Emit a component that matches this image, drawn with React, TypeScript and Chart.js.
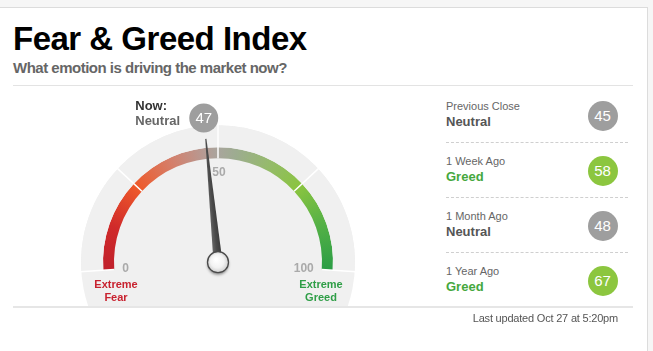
import React, { useEffect, useRef } from 'react';
import { Chart, registerables } from 'chart.js';

Chart.register(...registerables);

// ---- data ----
const zoneLabels = ['Extreme Fear', 'Fear', 'Greed', 'Extreme Greed'];
const zoneSizes = [25, 25, 25, 25];
const tickLabels = ['0', '50', '100'];
const currentValue = 47;
const currentRating = 'Neutral';
const historyLabels = ['Previous Close', '1 Week Ago', '1 Month Ago', '1 Year Ago'];
const historyRatings = ['Neutral', 'Greed', 'Neutral', 'Greed'];
const historyValues = [45, 58, 48, 67];
const titleText = 'Fear & Greed Index';
const subtitleText = 'What emotion is driving the market now?';
const updatedText = 'Last updated Oct 27 at 5:20pm';

const FONT = '"Liberation Sans", Arial, Helvetica, sans-serif';
const ratingText: Record<string, string> = { Neutral: '#555555', Greed: '#45a83e', Fear: '#e0542b' };
const ratingBadge: Record<string, string> = { Neutral: '#9e9e9e', Greed: '#8cc63f', Fear: '#f06c3b' };

const ROTATION = -94;
const CIRC = 188;
const OUTER = 137;
const INNER = 104;

const gradStops: [number, string][] = [
  [0, '#c0202b'],
  [0.12, '#d02a2a'],
  [0.25, '#ee5a2b'],
  [0.37, '#d4806c'],
  [0.46, '#b69a93'],
  [0.5, '#a9a59d'],
  [0.55, '#9dac90'],
  [0.65, '#95bb6a'],
  [0.75, '#8ac440'],
  [0.87, '#55b146'],
  [1, '#2a9d45'],
];

const gaugePlugin = {
  id: 'gauge',
  beforeDatasetsDraw(chart: any) {
    const ctx = chart.ctx;
    const band = chart.getDatasetMeta(0).data[0];
    ctx.save();
    ctx.beginPath();
    ctx.arc(band.x, band.y, band.outerRadius, 0, Math.PI * 2);
    ctx.fillStyle = '#f0f0f0';
    ctx.fill();
    ctx.restore();
  },
  afterDatasetsDraw(chart: any) {
    const ctx = chart.ctx;
    const bandEls = chart.getDatasetMeta(0).data;
    const arcEls = chart.getDatasetMeta(1).data;
    const cx = bandEls[0].x;
    const cy = bandEls[0].y;
    const rOut = bandEls[0].outerRadius;
    const rIn = arcEls[0].innerRadius;
    const start = arcEls[0].startAngle;
    const end = arcEls[arcEls.length - 1].endAngle;
    const angles = arcEls.map((e: any) => e.startAngle).concat([end]);

    ctx.save();
    // dividers
    ctx.strokeStyle = '#ffffff';
    ctx.lineWidth = 1.5;
    angles.forEach((a: number) => {
      ctx.beginPath();
      ctx.moveTo(cx + Math.cos(a) * rIn, cy + Math.sin(a) * rIn);
      ctx.lineTo(cx + Math.cos(a) * (rOut + 1), cy + Math.sin(a) * (rOut + 1));
      ctx.stroke();
    });

    // tick labels
    ctx.font = `bold 12px ${FONT}`;
    ctx.fillStyle = '#aaaaaa';
    ctx.textBaseline = 'middle';
    const rT = 96;
    ctx.textAlign = 'left';
    ctx.fillText(tickLabels[0], cx + Math.cos(start) * rT, cy + Math.sin(start) * rT);
    ctx.textAlign = 'right';
    ctx.fillText(tickLabels[2], cx + Math.cos(end) * rT, cy + Math.sin(end) * rT);
    const mid = (start + end) / 2;
    ctx.textAlign = 'center';
    ctx.fillText(tickLabels[1], cx + Math.cos(mid) * 90 + 1, cy + Math.sin(mid) * 90 + 0.5);

    // extreme labels
    ctx.font = `bold 11px ${FONT}`;
    ctx.textBaseline = 'alphabetic';
    ctx.fillStyle = '#c8222f';
    const fearParts = zoneLabels[0].split(' ');
    ctx.fillText(fearParts[0], cx - 102, cy + 25.5);
    ctx.fillText(fearParts[1], cx - 102, cy + 38.5);
    ctx.fillStyle = '#2f9e47';
    const greedParts = zoneLabels[3].split(' ');
    ctx.fillText(greedParts[0], cx + 103, cy + 25.5);
    ctx.fillText(greedParts[1], cx + 103, cy + 38.5);

    // needle
    const a = start + (currentValue / 100) * (end - start);
    const tipR = 124;
    const hw = 4.5;
    const px = -Math.sin(a);
    const py = Math.cos(a);
    const tx = cx + Math.cos(a) * tipR;
    const ty = cy + Math.sin(a) * tipR;
    const grad = ctx.createLinearGradient(cx + px * hw, cy + py * hw, cx - px * hw, cy - py * hw);
    grad.addColorStop(0, '#3a3a3a');
    grad.addColorStop(0.5, '#4a4a4a');
    grad.addColorStop(1, '#6a6a6a');
    ctx.beginPath();
    ctx.moveTo(tx + px * 0.6, ty + py * 0.6);
    ctx.lineTo(cx + px * hw, cy + py * hw);
    ctx.lineTo(cx - px * hw, cy - py * hw);
    ctx.lineTo(tx - px * 0.6, ty - py * 0.6);
    ctx.closePath();
    ctx.fillStyle = grad;
    ctx.fill();

    // hub
    ctx.save();
    ctx.shadowColor = 'rgba(0,0,0,0.45)';
    ctx.shadowBlur = 3;
    ctx.shadowOffsetY = 2;
    const hr = 10.5;
    const hg = ctx.createRadialGradient(cx - 2, cy - 3, 1, cx, cy, hr);
    hg.addColorStop(0, '#ffffff');
    hg.addColorStop(0.6, '#f2f2f2');
    hg.addColorStop(1, '#cfcfcf');
    ctx.beginPath();
    ctx.arc(cx, cy, hr, 0, Math.PI * 2);
    ctx.fillStyle = hg;
    ctx.fill();
    ctx.restore();
    ctx.beginPath();
    ctx.arc(cx, cy, hr, 0, Math.PI * 2);
    ctx.strokeStyle = '#4a4a4a';
    ctx.lineWidth = 1.3;
    ctx.stroke();

    // badge
    const bR = 145;
    const bx = cx + Math.cos(a) * bR;
    const by = cy + Math.sin(a) * bR;
    ctx.beginPath();
    ctx.arc(bx, by, 14.5, 0, Math.PI * 2);
    ctx.fillStyle = ratingBadge[currentRating];
    ctx.fill();
    ctx.fillStyle = '#ffffff';
    ctx.font = `15px ${FONT}`;
    ctx.textAlign = 'center';
    ctx.textBaseline = 'middle';
    ctx.fillText(String(currentValue), bx, by + 0.5);

    // now label
    ctx.textAlign = 'left';
    ctx.textBaseline = 'alphabetic';
    ctx.font = `bold 13px ${FONT}`;
    ctx.fillStyle = '#333333';
    ctx.fillText('Now:', bx - 68.5, by - 7.5);
    ctx.fillStyle = '#666666';
    ctx.fillText(currentRating, bx - 68.5, by + 7.5);
    ctx.restore();
  },
};

function conic(c: any) {
  const chart = c.chart;
  const area = chart.chartArea;
  if (!area) return '#cccccc';
  const ctrl: any = chart.getDatasetMeta(c.datasetIndex).controller;
  const cx = (area.left + area.right) / 2 + (ctrl.offsetX || 0);
  const cy = (area.top + area.bottom) / 2 + (ctrl.offsetY || 0);
  const startA = ((ROTATION - 90) * Math.PI) / 180;
  const g = chart.ctx.createConicGradient(startA, cx, cy);
  const frac = CIRC / 360;
  gradStops.forEach(([f, col]) => g.addColorStop(f * frac, col));
  g.addColorStop(Math.min(1, frac + 0.01), gradStops[gradStops.length - 1][1]);
  return g;
}

function Gauge() {
  const ref = useRef<HTMLCanvasElement | null>(null);
  useEffect(() => {
    if (!ref.current) return;
    const chart = new Chart(ref.current, {
      type: 'doughnut',
      data: {
        labels: zoneLabels,
        datasets: [
          { data: zoneSizes, backgroundColor: '#f0f0f0', borderWidth: 0, weight: OUTER - 115 } as any,
          { data: zoneSizes, backgroundColor: conic, borderWidth: 0, weight: 115 - INNER } as any,
        ],
      },
      options: {
        responsive: false,
        animation: false,
        events: [],
        rotation: ROTATION,
        circumference: CIRC,
        radius: OUTER,
        cutout: `${(INNER / OUTER) * 100}%`,
        layout: { padding: 0 },
        plugins: { legend: { display: false }, tooltip: { enabled: false } },
      } as any,
      plugins: [gaugePlugin],
    });
    return () => chart.destroy();
  }, []);
  return (
    <canvas
      ref={ref}
      width={300}
      height={217}
      style={{ position: 'absolute', left: 68, top: 90, width: 300, height: 217 }}
    />
  );
}

export default function App() {
  const abs = (s: React.CSSProperties): React.CSSProperties => ({ position: 'absolute', ...s });
  return (
    <div style={abs({ left: 0, top: 0, width: 653, height: 351, background: '#f6f6f6', overflow: 'hidden', fontFamily: FONT })}>
      <div style={abs({ left: -2, top: 7, width: 650, height: 400, boxSizing: 'border-box', background: '#fff', border: '1px solid #dcdcdc' })} />
      <div style={abs({ left: 13, top: 21.5, fontSize: 33, lineHeight: '33px', fontWeight: 'bold', color: '#000', letterSpacing: '-0.5px', whiteSpace: 'nowrap' })}>{titleText}</div>
      <div style={abs({ left: 13, top: 59.5, fontSize: 15, lineHeight: '15px', fontWeight: 'bold', color: '#666', letterSpacing: '-0.5px', whiteSpace: 'nowrap' })}>{subtitleText}</div>
      <div style={abs({ left: 13, top: 85, width: 620, height: 1, background: '#e3e3e3' })} />
      <Gauge />
      {historyLabels.map((lab, i) => (
        <React.Fragment key={lab}>
          <div style={abs({ left: 446, top: 110.7 + i * 55 - 9.3, fontSize: 11, lineHeight: '11px', color: '#666', whiteSpace: 'nowrap' })}>{lab}</div>
          <div style={abs({ left: 446, top: 126 + i * 55 - 11, fontSize: 13, lineHeight: '13px', fontWeight: 'bold', color: ratingText[historyRatings[i]], whiteSpace: 'nowrap' })}>{historyRatings[i]}</div>
          <div style={abs({ left: 602.5 - 15, top: 115.5 + i * 55 - 15, width: 30, height: 30, borderRadius: '50%', background: ratingBadge[historyRatings[i]], color: '#fff', fontSize: 15, lineHeight: '30px', textAlign: 'center' })}>{historyValues[i]}</div>
          {i < historyLabels.length - 1 && (
            <div style={abs({ left: 446, top: 142 + i * 55, width: 182, height: 0, borderTop: '1px dashed #cfcfcf' })} />
          )}
        </React.Fragment>
      ))}
      <div style={abs({ left: 13, top: 306, width: 620, height: 2, background: '#e6e6e6' })} />
      <div style={abs({ right: 653 - 618, top: 312.7, fontSize: 11, lineHeight: '11px', color: '#555', whiteSpace: 'nowrap', letterSpacing: '-0.2px' })}>{updatedText}</div>
    </div>
  );
}
